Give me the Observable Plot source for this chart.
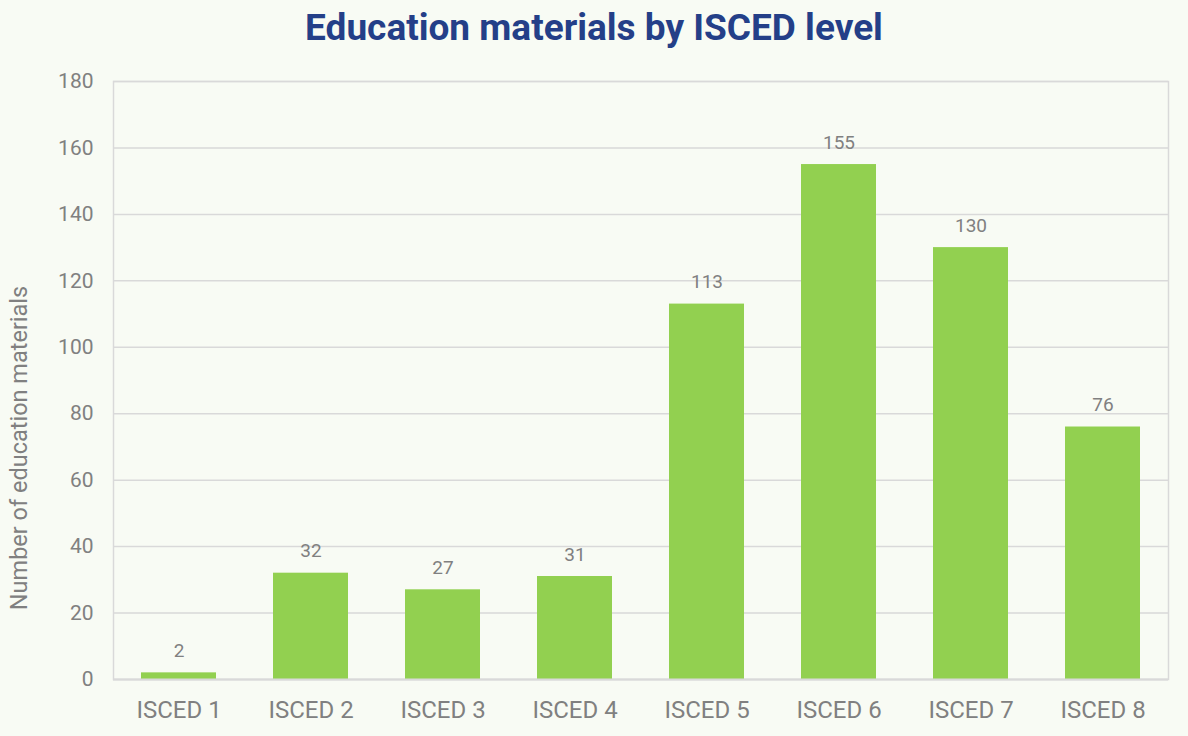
<!DOCTYPE html>
<html>
<head>
<meta charset="utf-8">
<script src="https://cdn.jsdelivr.net/npm/d3@7"></script>
<script src="https://cdn.jsdelivr.net/npm/@observablehq/plot@0.6"></script>
<style>
  html, body { margin: 0; padding: 0; background: #f8fbf4; }
  #title { height: 55px; line-height: 55px; text-align: center; font-family: Roboto, sans-serif; font-weight: bold; font-size: 37px; color: #243f88; width: 1188px; }
  #chart svg { display: block; }
</style>
</head>
<body>
<div id="title">Education materials by ISCED level</div>
<div id="chart"></div>
<script>
const levels = ["ISCED 1","ISCED 2","ISCED 3","ISCED 4","ISCED 5","ISCED 6","ISCED 7","ISCED 8"];
const counts = [2, 32, 27, 31, 113, 155, 130, 76];
const yTicks = [0, 20, 40, 60, 80, 100, 120, 140, 160, 180];
const yLabel = "Number of education materials";

const data = levels.map((l, i) => ({level: l, count: counts[i]}));

const chart = Plot.plot({
  width: 1188,
  height: 681,
  marginTop: 26,
  marginBottom: 57,
  marginLeft: 113,
  marginRight: 20,
  style: {background: "transparent", fontFamily: "Roboto, sans-serif", fontSize: "20px", color: "#808080"},
  x: {domain: levels, paddingInner: 0.43, paddingOuter: 0.2, label: null},
  y: {domain: [0, 180], label: null},
  marks: [
    Plot.gridY(yTicks, {stroke: "#d9d9d9", strokeOpacity: 1, strokeWidth: 1.5}),
    Plot.frame({stroke: "#d9d9d9", strokeWidth: 1.5}),
    Plot.barY(data, {x: "level", y: "count", fill: "#92d050"}),
    Plot.ruleY([0], {stroke: "#d9d9d9", strokeWidth: 2}),
    Plot.text(data, {x: "level", y: "count", text: d => String(d.count), lineAnchor: "bottom", dy: -16, fill: "#808080", fontSize: 19}),
    Plot.axisX({tickSize: 0, tickPadding: 21, fontSize: 24, fill: "#808080", label: null}),
    Plot.axisY(yTicks, {tickSize: 0, tickPadding: 20, fontSize: 21, fill: "#808080", label: null})
  ]
});
document.getElementById("chart").appendChild(chart);

d3.select(chart).append("text")
  .attr("transform", "translate(27, 393) rotate(-90)")
  .attr("text-anchor", "middle")
  .attr("font-family", "Roboto, sans-serif")
  .attr("font-size", 23.5)
  .attr("fill", "#808080")
  .text(yLabel);
</script>
</body>
</html>
